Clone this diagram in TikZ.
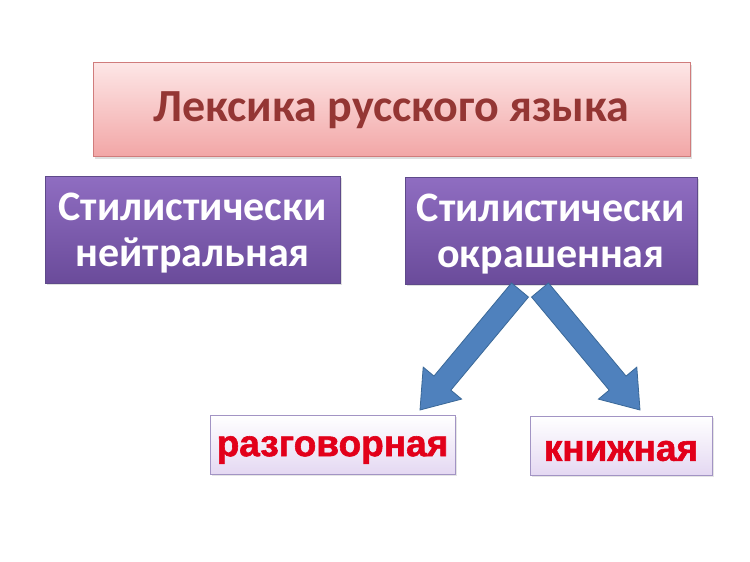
\documentclass[tikz,border=0pt]{standalone}
\usepackage{fontspec}
\setmainfont{Carlito}
\newfontfamily\arialb[FakeBold=1.6]{Liberation Sans Bold}
\usetikzlibrary{calc,shadows}
\definecolor{pinktop}{HTML}{FDE6E6}
\definecolor{pinkbot}{HTML}{F2A6A6}
\definecolor{pinkbd}{HTML}{D07C7C}
\definecolor{titlec}{HTML}{943634}
\definecolor{purtop}{HTML}{8F6DC1}
\definecolor{purbot}{HTML}{6A4B9A}
\definecolor{purbd}{HTML}{5E4A8A}
\definecolor{lavtop}{HTML}{FFFFFF}
\definecolor{lavbot}{HTML}{E4D8F2}
\definecolor{lavbd}{HTML}{A294C4}
\definecolor{redtx}{HTML}{E2001A}
\definecolor{arrfill}{HTML}{4F81BD}
\definecolor{arrbd}{HTML}{3A6898}
\newcommand\lowr[2]{\raisebox{-#1}[\height][\depth]{#2}}
\tikzset{
  titlebox/.style={draw=pinkbd, line width=1pt, top color=pinktop, bottom color=pinkbot,
    drop shadow={opacity=0.25, shadow xshift=2pt, shadow yshift=-2pt},
    minimum width=597pt, minimum height=94pt, text=titlec, font=\fontsize{46}{52}\selectfont\bfseries},
  purbox/.style={draw=purbd, line width=1pt, top color=purtop, bottom color=purbot,
    drop shadow={opacity=0.25, shadow xshift=2pt, shadow yshift=-2pt},
    minimum height=107pt, text=white, align=center, font=\fontsize{42}{46}\selectfont\bfseries},
  lavbox/.style={draw=lavbd, line width=1pt, top color=lavtop, bottom color=lavbot,
    drop shadow={opacity=0.2, shadow xshift=2pt, shadow yshift=-2pt},
    minimum height=59pt, text=redtx, font=\arialb\fontsize{37}{42}\selectfont},
  barrow/.style={fill=arrfill, draw=arrbd, line width=0.8pt, line join=miter}
}
\newcommand\blockarr[2]{%
  \coordinate (hh) at ($(#2)!35pt!(#1)$);
  \draw[barrow] ($(#1)!11pt!90:(#2)$) -- ($(hh)!11pt!90:(#2)$) -- ($(hh)!25pt!90:(#2)$)
    -- (#2) -- ($(hh)!25pt!-90:(#2)$) -- ($(hh)!11pt!-90:(#2)$) -- ($(#1)!11pt!-90:(#2)$) -- cycle;}
\begin{document}
\begin{tikzpicture}[x=1pt,y=1pt]
\useasboundingbox[fill=white] (0,0) rectangle (750,562);
\node[titlebox] (top) at (391.5,452) {Лексика русского языка};
\node[purbox, minimum width=295pt] (L) at (192.5,332) {\lowr{3pt}{Стилистически}\\\lowr{3pt}{нейтральная}};
\node[purbox, minimum width=292pt] (R) at (551,331) {\lowr{3pt}{Стилистически}\\\lowr{3pt}{окрашенная}};
\node[lavbox, minimum width=245pt] (A) at (332.5,117) {\lowr{5pt}{разговорная}};
\node[lavbox, minimum width=182pt] (B) at (621,116) {\lowr{5pt}{книжная}};
\coordinate (s1) at (520,272);
\coordinate (t1) at (420,152);
\coordinate (s2) at (540,272);
\coordinate (t2) at (640,152);
\blockarr{s1}{t1}
\blockarr{s2}{t2}
\end{tikzpicture}
\end{document}
